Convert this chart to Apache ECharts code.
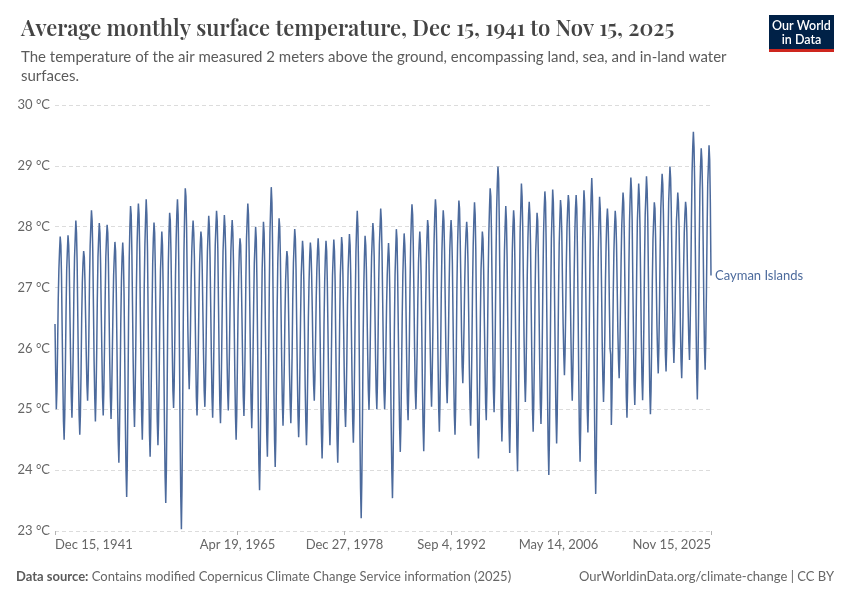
<!DOCTYPE html>
<html>
<head>
<meta charset="utf-8">
<script src="https://cdn.jsdelivr.net/npm/echarts@6/dist/echarts.min.js"></script>
<style>
html,body{margin:0;padding:0;background:#fff;}
#chart{width:850px;height:600px;}
</style>
</head>
<body>
<div id="chart"></div>
<script>
// Monthly values, Dec 1941 first, then Jan..Dec per year, ending Nov 2025 (°C)
const temperature = [
26.4,
25.6,25.0,25.3,26.0,26.8,27.3,27.6,27.84,27.7,27.2,26.3,25.5,
24.8,24.5,24.9,25.7,26.6,27.3,27.6,27.86,27.7,27.3,26.5,25.8,
25.2,24.86,25.3,26.0,26.9,27.5,27.8,28.1,27.9,27.4,26.5,25.6,
24.9,24.58,24.9,25.6,26.5,27.1,27.4,27.6,27.5,27.1,26.5,25.9,
25.4,25.14,25.5,26.2,27.1,27.7,28.0,28.27,28.1,27.6,26.7,25.8,
25.2,24.8,25.2,25.9,26.8,27.5,27.8,28.06,27.9,27.4,26.6,25.9,
25.2,24.9,25.3,26.0,26.8,27.5,27.8,28.03,27.9,27.4,26.6,25.8,
25.2,24.84,25.2,25.9,26.6,27.2,27.5,27.75,27.6,27.0,26.1,25.2,
24.5,24.12,24.6,25.4,26.4,27.1,27.5,27.74,27.5,26.9,25.9,24.8,
24.0,23.56,24.1,25.2,26.5,27.5,28.0,28.34,28.2,27.6,26.7,25.8,
25.1,24.71,25.2,26.0,27.0,27.7,28.1,28.38,28.2,27.6,26.6,25.7,
24.9,24.5,25.0,25.9,27.0,27.7,28.1,28.45,28.2,27.6,26.5,25.5,
24.6,24.22,24.7,25.6,26.6,27.4,27.8,28.07,27.9,27.3,26.4,25.5,
24.8,24.41,24.8,25.6,26.6,27.3,27.6,27.92,27.7,27.0,25.9,24.8,
23.9,23.46,24.0,25.1,26.4,27.4,27.9,28.23,28.1,27.6,26.8,26.0,
25.3,25.02,25.4,26.2,27.2,27.8,28.2,28.45,28.2,27.4,26.0,24.7,
23.6,23.03,23.7,25.0,26.5,27.6,28.2,28.63,28.5,28.0,27.1,26.3,
25.7,25.33,25.7,26.3,27.1,27.6,27.9,28.1,27.9,27.5,26.7,25.9,
25.2,24.9,25.3,26.0,26.8,27.4,27.7,27.92,27.8,27.3,26.6,25.9,
25.3,25.04,25.4,26.1,27.0,27.6,27.9,28.18,28.0,27.5,26.7,25.9,
25.2,24.86,25.3,26.1,27.0,27.7,28.0,28.26,28.1,27.6,26.7,25.8,
25.1,24.77,25.2,26.0,26.9,27.6,27.9,28.19,28.0,27.6,26.8,25.9,
25.3,24.98,25.4,26.1,26.9,27.6,27.9,28.11,27.9,27.4,26.5,25.6,
24.9,24.5,24.9,25.7,26.6,27.2,27.6,27.81,27.7,27.2,26.5,25.8,
25.2,24.89,25.3,26.1,27.1,27.8,28.1,28.38,28.2,27.6,26.7,25.8,
25.1,24.69,25.1,25.9,26.7,27.4,27.7,28.0,27.8,27.1,26.1,25.0,
24.1,23.67,24.2,25.2,26.4,27.3,27.7,28.08,27.9,27.3,26.3,25.4,
24.6,24.22,24.8,25.8,27.0,27.9,28.3,28.65,28.4,27.7,26.6,25.4,
24.5,24.05,24.5,25.5,26.6,27.4,27.8,28.14,28.0,27.5,26.6,25.8,
25.1,24.73,25.1,25.7,26.5,27.1,27.4,27.6,27.5,27.0,26.3,25.6,
25.1,24.77,25.2,25.9,26.8,27.4,27.7,27.96,27.8,27.3,26.4,25.6,
24.9,24.54,24.9,25.7,26.5,27.2,27.5,27.77,27.6,27.1,26.3,25.4,
24.8,24.41,24.8,25.6,26.5,27.1,27.5,27.74,27.6,27.2,26.6,25.9,
25.4,25.14,25.5,26.1,26.8,27.3,27.6,27.81,27.6,27.1,26.2,25.3,
24.6,24.19,24.6,25.4,26.4,27.1,27.5,27.77,27.6,27.1,26.3,25.4,
24.8,24.41,24.8,25.6,26.5,27.2,27.5,27.79,27.6,27.1,26.1,25.2,
24.5,24.12,24.6,25.4,26.4,27.2,27.5,27.83,27.7,27.2,26.4,25.6,
25.0,24.71,25.1,25.8,26.7,27.3,27.6,27.88,27.7,27.2,26.3,25.5,
24.8,24.45,24.9,25.8,26.8,27.6,28.0,28.26,28.0,27.3,26.0,24.7,
23.7,23.21,23.8,24.8,26.1,27.0,27.5,27.85,27.7,27.3,26.6,25.9,
25.3,24.99,25.4,26.1,26.9,27.5,27.8,28.06,27.9,27.5,26.7,25.9,
25.3,25.0,25.4,26.2,27.1,27.7,28.0,28.3,28.1,27.6,26.8,26.0,
25.3,25.0,25.3,26.0,26.7,27.2,27.5,27.73,27.5,26.9,25.8,24.8,
24.0,23.54,24.1,25.1,26.3,27.2,27.6,27.96,27.8,27.2,26.3,25.4,
24.7,24.3,24.7,25.6,26.5,27.2,27.6,27.89,27.7,27.3,26.5,25.7,
25.1,24.82,25.3,26.1,27.0,27.7,28.1,28.37,28.2,27.7,26.9,26.0,
25.3,25.0,25.4,26.0,26.8,27.4,27.7,27.92,27.7,27.2,26.3,25.4,
24.7,24.31,24.8,25.6,26.7,27.4,27.8,28.11,28.0,27.5,26.7,26.0,
25.4,25.04,25.5,26.2,27.2,27.8,28.2,28.45,28.3,27.7,26.7,25.8,
25.0,24.63,25.1,25.9,26.9,27.6,28.0,28.27,28.1,27.6,26.8,26.0,
25.4,25.1,25.5,26.2,27.0,27.6,27.9,28.11,27.9,27.4,26.5,25.6,
24.9,24.58,25.0,25.9,27.0,27.7,28.1,28.43,28.3,27.8,27.1,26.3,
25.7,25.43,25.8,26.4,27.1,27.6,27.9,28.08,27.9,27.4,26.6,25.7,
25.1,24.73,25.2,26.0,27.0,27.7,28.1,28.4,28.2,27.6,26.5,25.5,
24.6,24.19,24.6,25.5,26.5,27.3,27.6,27.92,27.8,27.3,26.5,25.8,
25.1,24.82,25.3,26.2,27.2,27.9,28.3,28.63,28.5,27.9,27.0,26.1,
25.3,24.95,25.4,26.4,27.5,28.3,28.7,28.99,28.8,28.1,27.0,25.8,
24.9,24.47,24.9,25.8,26.9,27.6,28.0,28.34,28.1,27.5,26.5,25.5,
24.7,24.28,24.8,25.7,26.8,27.6,28.0,28.27,28.1,27.4,26.3,25.3,
24.4,23.98,24.6,25.6,26.9,27.9,28.3,28.71,28.5,28.0,27.1,26.2,
25.5,25.12,25.5,26.3,27.2,27.8,28.2,28.41,28.2,27.7,26.7,25.8,
25.0,24.63,25.1,25.9,26.9,27.6,27.9,28.23,28.1,27.5,26.7,25.8,
25.1,24.76,25.2,26.1,27.1,27.9,28.3,28.58,28.4,27.7,26.5,25.3,
24.4,23.92,24.5,25.6,26.8,27.8,28.2,28.61,28.4,27.8,26.7,25.7,
24.9,24.44,24.9,25.8,26.9,27.7,28.1,28.44,28.3,27.9,27.1,26.4,
25.9,25.56,25.9,26.6,27.4,28.0,28.3,28.52,28.4,27.8,27.0,26.2,
25.5,25.14,25.6,26.3,27.2,27.9,28.3,28.52,28.3,27.6,26.6,25.5,
24.6,24.14,24.7,25.7,26.9,27.8,28.2,28.6,28.4,27.8,26.8,25.8,
25.0,24.62,25.1,26.1,27.2,28.1,28.5,28.8,28.5,27.8,26.5,25.2,
24.1,23.61,24.2,25.3,26.6,27.6,28.1,28.49,28.3,27.8,27.0,26.1,
25.5,25.12,25.5,26.2,27.1,27.7,28.1,28.3,28.1,27.6,26.7,26.0,
25.9,24.74,25.2,26.0,26.9,27.6,28.0,28.26,28.1,27.7,27.0,26.3,
25.8,25.51,25.9,26.6,27.4,28.0,28.3,28.56,28.4,27.8,26.9,26.0,
25.2,24.86,25.3,26.2,27.3,28.1,28.5,28.81,28.6,28.1,27.1,26.2,
25.4,25.07,25.5,26.3,27.3,28.1,28.4,28.71,28.5,28.0,27.1,26.2,
25.5,25.15,25.6,26.4,27.4,28.2,28.5,28.83,28.6,28.1,27.1,26.1,
25.3,24.92,25.3,26.1,27.1,27.8,28.1,28.4,28.3,27.8,27.1,26.4,
25.9,25.59,26.0,26.7,27.6,28.3,28.6,28.87,28.7,28.2,27.4,26.6,
25.9,25.62,26.0,26.8,27.7,28.4,28.7,28.99,28.8,28.3,27.5,26.7,
26.1,25.76,26.1,26.7,27.5,28.1,28.3,28.56,28.4,28.0,27.2,26.4,
25.8,25.51,25.9,26.5,27.3,27.9,28.2,28.41,28.3,27.9,27.2,26.6,
26.1,25.81,26.3,27.1,28.1,28.9,29.3,29.56,29.3,28.7,27.6,26.5,
25.6,25.16,25.7,26.6,27.7,28.6,29.0,29.29,29.1,28.6,27.7,26.7,
26.0,25.65,26.1,26.9,27.9,28.7,29.0,29.34,29.1,28.4,27.2
];
const seriesName = 'Cayman Islands';
const startYear = 1941, startMonth = 11; // Dec 1941 (0-based month)
const tickDates = [[1941,11,15],[1965,3,19],[1978,11,27],[1992,8,4],[2006,4,14],[2025,10,15]];
const tickLabels = ['Dec 15, 1941','Apr 19, 1965','Dec 27, 1978','Sep 4, 1992','May 14, 2006','Nov 15, 2025'];
const yTicks = [23,24,25,26,27,28,29,30];

const tickValues = tickDates.map(d => Date.UTC(d[0], d[1], d[2]));
const data = temperature.map((v, i) => [Date.UTC(startYear, startMonth + i, 15), v]);

const chart = echarts.init(document.getElementById('chart'));
const lineColor = '#4c6a9c';
chart.setOption({
  animation: false,
  backgroundColor: '#fff',
  title: {
    text: 'Average monthly surface temperature, Dec 15, 1941 to Nov 15, 2025',
    subtext: 'The temperature of the air measured 2 meters above the ground, encompassing land, sea, and in-land water\nsurfaces.',
    left: 16, top: 13, itemGap: 8,
    textStyle: { fontFamily: 'Playfair Display, Liberation Serif, serif', fontSize: 22, fontWeight: 600, color: '#444' },
    subtextStyle: { fontFamily: 'Lato', fontSize: 15, color: '#5b5b5b', lineHeight: 19 }
  },
  grid: { left: 55, right: 139, top: 105, bottom: 69, containLabel: false, outerBoundsMode: 'none' },
  xAxis: {
    type: 'value',
    min: tickValues[0],
    max: tickValues[tickValues.length - 1],
    axisLine: { show: false },
    splitLine: { show: false },
    axisTick: { show: true, customValues: tickValues, length: 4, lineStyle: { color: '#b3b3b3' } },
    axisLabel: {
      customValues: tickValues,
      fontFamily: 'Lato', fontSize: 13, color: '#666', margin: 7,
      alignMinLabel: 'left', alignMaxLabel: 'right',
      formatter: function (v) {
        let best = 0;
        for (let i = 1; i < tickValues.length; i++) {
          if (Math.abs(tickValues[i] - v) < Math.abs(tickValues[best] - v)) best = i;
        }
        return tickLabels[best];
      }
    }
  },
  yAxis: {
    type: 'value', min: yTicks[0], max: yTicks[yTicks.length - 1], interval: 1,
    axisLine: { show: false }, axisTick: { show: false },
    axisLabel: { formatter: '{value} °C', fontFamily: 'Lato', fontSize: 13, color: '#666', margin: 5 },
    splitLine: { lineStyle: { color: '#dcdcdc', type: [4, 3], width: 1 } }
  },
  series: [{
    name: seriesName,
    type: 'line',
    data: data,
    showSymbol: false,
    lineStyle: { color: lineColor, width: 1.5 },
    itemStyle: { color: lineColor },
    endLabel: { show: true, formatter: seriesName, color: lineColor, fontFamily: 'Lato', fontSize: 13, distance: 4 }
  }],
  graphic: [
    { type: 'rect', shape: { x: 769, y: 15, width: 65, height: 35 }, style: { fill: '#002147' } },
    { type: 'rect', shape: { x: 769, y: 49, width: 65, height: 3 }, style: { fill: '#ce261e' } },
    { type: 'text', x: 801.5, y: 19, style: { text: 'Our World\nin Data', fill: '#fff', font: '600 12.5px Lato', align: 'center', lineHeight: 14 } },
    { type: 'text', x: 16, y: 570, style: { text: '{b|Data source:} Contains modified Copernicus Climate Change Service information (2025)', rich: { b: { fontWeight: 'bold', fontFamily: 'Lato', fontSize: 13, fill: '#5b5b5b' } }, font: '13px Lato', fill: '#666' } },
    { type: 'text', x: 834, y: 570, style: { text: 'OurWorldinData.org/climate-change | CC BY', font: '13px Lato', fill: '#666', align: 'right' } }
  ]
});
</script>
</body>
</html>
